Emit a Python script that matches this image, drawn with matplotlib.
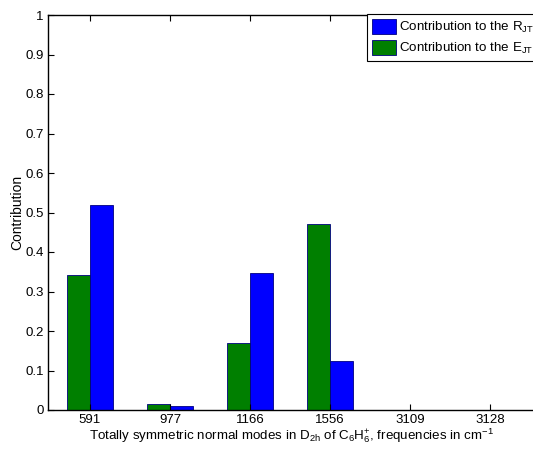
import numpy as np
import matplotlib.pyplot as plt

plt.rcParams['font.family'] = 'Liberation Sans'
plt.rcParams['mathtext.fontset'] = 'custom'
plt.rcParams['mathtext.rm'] = 'Liberation Sans'
plt.rcParams['mathtext.it'] = 'Liberation Sans'

modes = ['591', '977', '1166', '1556', '3109', '3128']
e_jt = [0.343, 0.016, 0.170, 0.470, 0.001, 0.001]
r_jt = [0.520, 0.009, 0.347, 0.123, 0.001, 0.001]

fig = plt.figure(figsize=(5.33, 4.5), dpi=100)
# axes runs a little past the right edge of the figure, like the reference crop
ax = fig.add_axes([48 / 533, 40 / 450, 488 / 533, 395 / 450])

x = np.arange(1, len(modes) + 1)
w = 0.285
b1 = ax.bar(x + w / 2, r_jt, w, color='#0000ff', edgecolor='#000080', linewidth=0.6,
            label='Contribution to the R$_{JT}$')
b2 = ax.bar(x - w / 2, e_jt, w, color='#007f00', edgecolor='#000080', linewidth=0.6,
            label='Contribution to the E$_{JT}$')

ax.set_xlim(0.475, 6.575)
ax.set_ylim(0, 1)
ax.set_xticks(x)
ax.set_xticklabels(modes)
ax.set_yticks(np.arange(0, 1.01, 0.1))
ax.set_yticklabels(['0'] + ['%.1f' % v for v in np.arange(0.1, 0.95, 0.1)] + ['1'])
ax.tick_params(direction='in', top=True, right=False, labelsize=9.5, length=4, width=0.8, pad=3)
for s in ax.spines.values():
    s.set_linewidth(1.0)
ax.spines['right'].set_visible(False)

ax.set_ylabel('Contribution', fontsize=10, labelpad=1)
ax.set_xlabel('Totally symmetric normal modes in D$_{2h}$ of C$_6$H$_6^{+}$, frequencies in cm$^{-1}$',
              fontsize=9.6, labelpad=0)

leg = fig.legend(handles=[b1, b2], loc='upper left', bbox_to_anchor=(367 / 533, 1 - 14 / 450),
                 fontsize=9.6, frameon=True, fancybox=False, edgecolor='black', framealpha=1,
                 handlelength=1.85, handleheight=1.35, handletextpad=0.2,
                 borderpad=0.35, labelspacing=0.4, borderaxespad=0)
leg.get_frame().set_linewidth(0.8)

fig.savefig('out.png', dpi=100)
